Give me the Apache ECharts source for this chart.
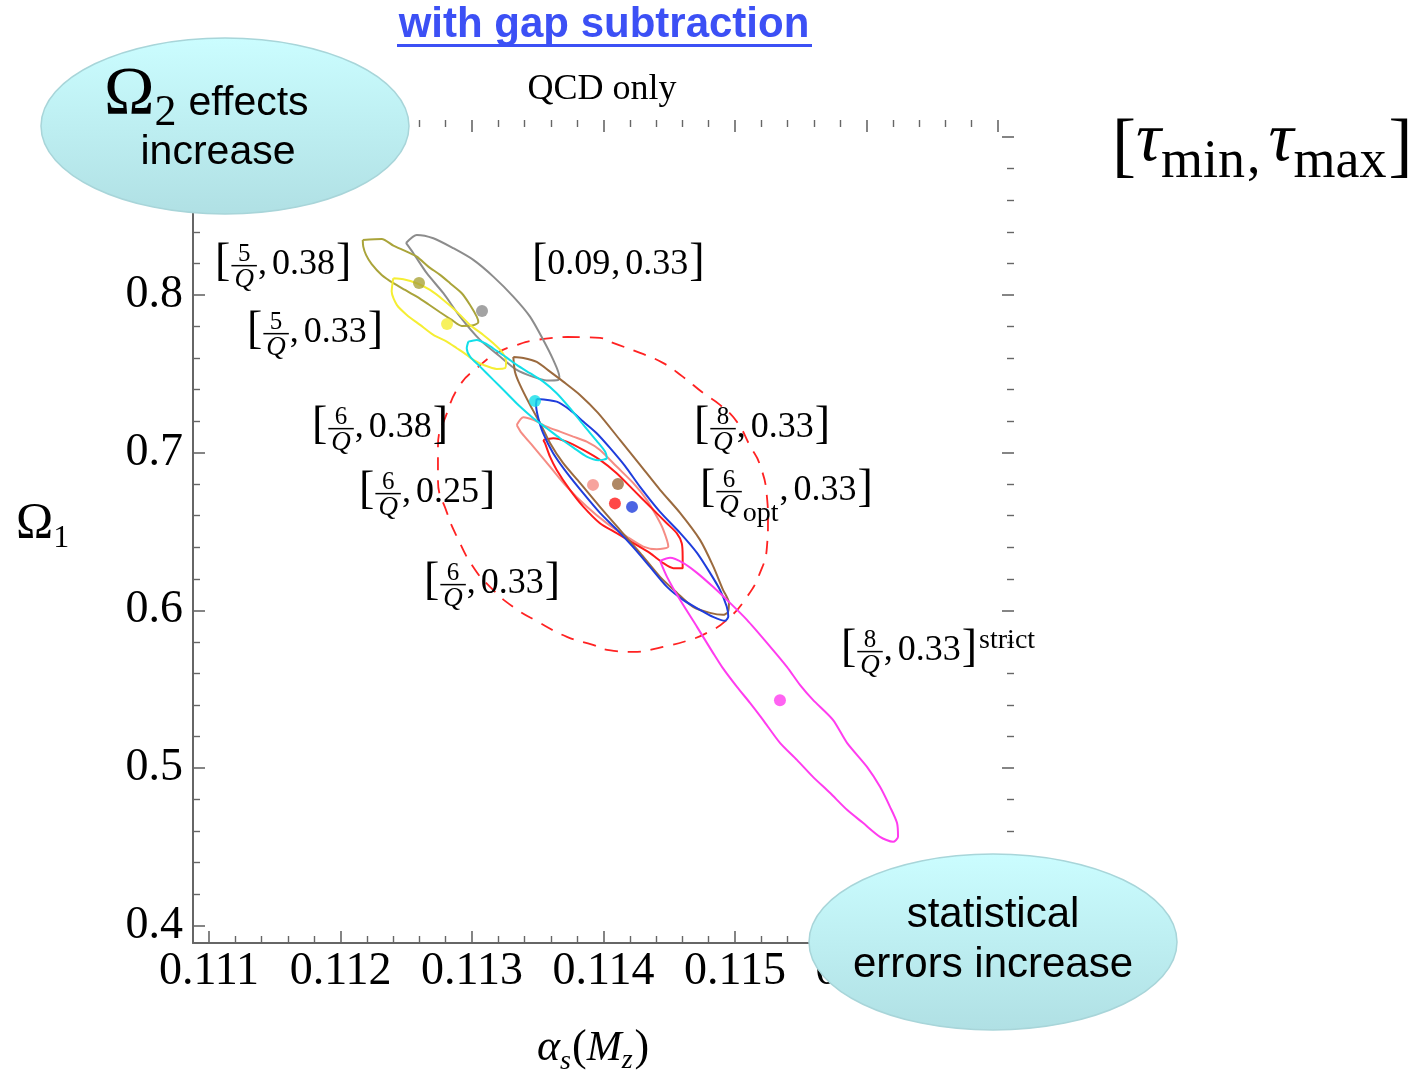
<!DOCTYPE html>
<html>
<head>
<meta charset="utf-8">
<script src="https://cdn.jsdelivr.net/npm/echarts@6/dist/echarts.min.js"></script>
<style>
  html, body { margin: 0; padding: 0; background: #ffffff; }
  #chart { width: 1426px; height: 1075px; }
</style>
</head>
<body>
<div id="chart"></div>
<script>
// ---- axis ranges and tick positions --------------------------------------
const alphaRange = [0.110878, 0.117122];
const omegaRange = [0.3891, 0.9109];
const alphaTicks = [0.111, 0.112, 0.113, 0.114, 0.115, 0.116, 0.117];
const omegaTicks = [0.4, 0.5, 0.6, 0.7, 0.8, 0.9];

// ---- best-fit points, one per fit window ---------------------------------
// order: [5/Q,0.38] [0.09,0.33] [5/Q,0.33] [6/Q,0.38] [6/Q,0.25] [6/Q,0.33]
//        [8/Q,0.33] [6/Qopt,0.33] [8/Q,0.33]strict
const bestAlphaS = [0.112597, 0.113076, 0.112810, 0.113479, 0.113920, 0.114087, 0.114110, 0.114217, 0.115342];
const bestOmega1 = [0.80761, 0.78986, 0.78162, 0.73280, 0.67956, 0.66783, 0.68019, 0.66561, 0.54295];

// ---- 1-sigma contours (alpha_s, Omega_1) --------------------------------
const contourOlive = [[0.112169,0.83487],[0.112313,0.83550],[0.112402,0.83125],[0.112491,0.82789],[0.112580,0.82428],[0.112668,0.81794],[0.112757,0.81268],[0.112833,0.80742],[0.112922,0.80108],[0.112985,0.79366],[0.113036,0.78624],[0.113048,0.78269],[0.112998,0.78054],[0.112922,0.78035],[0.112846,0.78415],[0.112757,0.78903],[0.112668,0.79410],[0.112580,0.79892],[0.112491,0.80317],[0.112402,0.80742],[0.112313,0.81268],[0.112237,0.81946],[0.112194,0.82536],[0.112173,0.83062],[0.112169,0.83487]];
const contourGray = [[0.112498,0.83296],[0.112580,0.83803],[0.112706,0.83594],[0.112858,0.82960],[0.113010,0.82219],[0.113162,0.81160],[0.113314,0.79892],[0.113441,0.78624],[0.113542,0.77147],[0.113618,0.75880],[0.113664,0.74821],[0.113656,0.74612],[0.113568,0.74580],[0.113466,0.74802],[0.113340,0.75246],[0.113213,0.76089],[0.113061,0.77147],[0.112909,0.78624],[0.112782,0.80108],[0.112656,0.81376],[0.112554,0.82643],[0.112498,0.83296]];
const contourYellow = [[0.112402,0.81059],[0.112478,0.80995],[0.112580,0.80742],[0.112681,0.80317],[0.112782,0.79683],[0.112884,0.78941],[0.112985,0.78098],[0.113086,0.77464],[0.113162,0.76938],[0.113226,0.76406],[0.113259,0.75772],[0.113251,0.75354],[0.113188,0.75309],[0.113086,0.75563],[0.113010,0.75880],[0.112960,0.76197],[0.112884,0.76621],[0.112808,0.77040],[0.112706,0.77464],[0.112605,0.78098],[0.112504,0.78732],[0.112428,0.79366],[0.112389,0.80209],[0.112397,0.80843],[0.112402,0.81059]];
const contourCyan = [[0.112972,0.77040],[0.113036,0.77147],[0.113112,0.76875],[0.113188,0.76450],[0.113264,0.76025],[0.113340,0.75563],[0.113441,0.75037],[0.113542,0.74504],[0.113644,0.73769],[0.113745,0.72818],[0.113847,0.71759],[0.113948,0.70745],[0.114012,0.70067],[0.114025,0.69648],[0.113961,0.69522],[0.113872,0.69750],[0.113771,0.70320],[0.113669,0.70916],[0.113568,0.71550],[0.113466,0.72184],[0.113365,0.72919],[0.113264,0.73769],[0.113162,0.74612],[0.113061,0.75455],[0.112985,0.76089],[0.112960,0.76621],[0.112972,0.77040]];
const contourSalmon = [[0.113340,0.71759],[0.113390,0.72247],[0.113466,0.72076],[0.113568,0.71651],[0.113669,0.71334],[0.113770,0.71017],[0.113872,0.70700],[0.113973,0.70174],[0.114100,0.69116],[0.114227,0.68063],[0.114329,0.67005],[0.114405,0.65946],[0.114455,0.65103],[0.114493,0.64044],[0.114405,0.63879],[0.114303,0.64044],[0.114176,0.64678],[0.114024,0.65528],[0.113872,0.66580],[0.113720,0.67848],[0.113593,0.69116],[0.113466,0.70384],[0.113378,0.71233],[0.113340,0.71759]];
const contourRed = [[0.113542,0.70808],[0.113618,0.70916],[0.113720,0.70700],[0.113846,0.70174],[0.113973,0.69540],[0.114100,0.68697],[0.114227,0.67639],[0.114354,0.66580],[0.114481,0.65528],[0.114557,0.64894],[0.114595,0.64260],[0.114602,0.63410],[0.114602,0.62675],[0.114531,0.62675],[0.114455,0.62992],[0.114354,0.63626],[0.114227,0.64260],[0.114100,0.64894],[0.113973,0.65528],[0.113846,0.66580],[0.113745,0.67639],[0.113644,0.68906],[0.113593,0.69750],[0.113555,0.70599],[0.113542,0.70808]];
const contourBrown = [[0.113314,0.76070],[0.113390,0.76006],[0.113492,0.75753],[0.113593,0.75138],[0.113694,0.74504],[0.113821,0.73661],[0.113958,0.72520],[0.114125,0.70808],[0.114278,0.69223],[0.114430,0.67639],[0.114582,0.66180],[0.114734,0.64469],[0.114833,0.62821],[0.114909,0.61300],[0.114954,0.60475],[0.114947,0.59905],[0.114909,0.59715],[0.114810,0.59841],[0.114681,0.60222],[0.114559,0.61109],[0.114430,0.62124],[0.114278,0.63645],[0.114125,0.65103],[0.113973,0.66561],[0.113821,0.68082],[0.113692,0.69350],[0.113593,0.70618],[0.113517,0.71886],[0.113441,0.73027],[0.113365,0.74295],[0.113327,0.75119],[0.113314,0.76070]];
const contourBlue = [[0.113492,0.73407],[0.113644,0.73236],[0.113745,0.72710],[0.113846,0.71968],[0.113948,0.71233],[0.114049,0.70301],[0.114163,0.69160],[0.114278,0.67829],[0.114430,0.66244],[0.114582,0.64913],[0.114711,0.63645],[0.114810,0.62377],[0.114886,0.61300],[0.114937,0.60241],[0.114949,0.59607],[0.114924,0.59334],[0.114833,0.59588],[0.114734,0.60032],[0.114605,0.60666],[0.114483,0.61490],[0.114354,0.62758],[0.114224,0.64025],[0.114103,0.65103],[0.113973,0.66180],[0.113844,0.67448],[0.113722,0.68716],[0.113616,0.69984],[0.113540,0.71252],[0.113502,0.72266],[0.113487,0.73027],[0.113492,0.73407]];
const contourMagenta = [[0.114430,0.63138],[0.114506,0.63328],[0.114605,0.63011],[0.114711,0.62377],[0.114833,0.61490],[0.114962,0.60475],[0.115091,0.59398],[0.115243,0.57940],[0.115395,0.56418],[0.115494,0.55277],[0.115593,0.54326],[0.115745,0.53059],[0.115852,0.51601],[0.116004,0.50079],[0.116103,0.48811],[0.116179,0.47544],[0.116232,0.46529],[0.116240,0.45642],[0.116202,0.45325],[0.116103,0.45642],[0.115973,0.46529],[0.115852,0.47353],[0.115722,0.48431],[0.115593,0.49445],[0.115471,0.50523],[0.115342,0.51601],[0.115213,0.53059],[0.115114,0.54136],[0.115015,0.55150],[0.114901,0.56418],[0.114833,0.57306],[0.114711,0.58954],[0.114582,0.60666],[0.114483,0.62124],[0.114430,0.63138]];

// dashed ring around the preferred fit region
const preferredRing = [[0.113722,0.77338],[0.113973,0.77274],[0.114072,0.76957],[0.114278,0.76323],[0.114452,0.75689],[0.114605,0.74802],[0.114757,0.73788],[0.114886,0.73027],[0.115015,0.71949],[0.115114,0.70428],[0.115190,0.69223],[0.115243,0.67195],[0.115251,0.65737],[0.115243,0.64025],[0.115190,0.62377],[0.115091,0.60856],[0.114939,0.59398],[0.114787,0.58574],[0.114658,0.58130],[0.114452,0.57686],[0.114224,0.57369],[0.114027,0.57496],[0.113920,0.57813],[0.113722,0.58320],[0.113517,0.59208],[0.113312,0.60222],[0.113137,0.61490],[0.113008,0.62758],[0.112886,0.64659],[0.112810,0.66180],[0.112741,0.68273],[0.112741,0.70365],[0.112810,0.72520],[0.112909,0.74295],[0.113038,0.75372],[0.113190,0.76323],[0.113342,0.76830],[0.113494,0.77147],[0.113722,0.77338]];

// ---- fit window labels and where they sit (alpha_s, Omega_1 of left edge / baseline)
const windowLabels = [
  { lo: ['5'], hi: '0.38' },
  { lo: '0.09', hi: '0.33' },
  { lo: ['5'], hi: '0.33' },
  { lo: ['6'], hi: '0.38' },
  { lo: ['6'], hi: '0.25' },
  { lo: ['6'], hi: '0.33' },
  { lo: ['8'], hi: '0.33' },
  { lo: ['6', 'opt'], hi: '0.33' },
  { lo: ['8'], hi: '0.33', sup: 'strict' }
];
const labelAnchors = [[0.111046,0.81141],[0.113456,0.81141],[0.111289,0.76830],[0.111783,0.70808],[0.112141,0.66688],[0.112635,0.60919],[0.114688,0.70808],[0.114734,0.66815],[0.115806,0.56672]];

// ---- styling -------------------------------------------------------------
const SERIF = "'Liberation Serif', 'Times New Roman', serif";
const SANS = "'Liberation Sans', Arial, Helvetica, sans-serif";
const AXIS_GRAY = '#666666';
const fitColors = ['#aaa43a', '#8c8c8c', '#f5ee34', '#12dfe9', '#f58c84', '#ff1a1a', '#9b6a3e', '#1f3ddc', '#ff3cef'];
const drawOrder = [1, 0, 2, 4, 5, 6, 7, 3, 8];
const contours = [contourOlive, contourGray, contourYellow, contourCyan, contourSalmon, contourRed, contourBrown, contourBlue, contourMagenta];

const fmtAlpha = v => Math.abs(v * 1000 - Math.round(v * 1000)) < 1e-6 ? v.toFixed(3) : '';
const fmtOmega = v => Math.abs(v * 10 - Math.round(v * 10)) < 1e-6 ? v.toFixed(1) : '';

function valueAxis(pos, range, step, ticks, fmt, withLine, withLabel) {
  return {
    type: 'value', position: pos, min: range[0], max: range[1],
    minInterval: step, maxInterval: step,
    axisLine: { show: withLine, onZero: false, lineStyle: { color: AXIS_GRAY, width: 2 } },
    axisTick: { show: true, inside: true, length: 12, customValues: ticks, lineStyle: { color: AXIS_GRAY, width: 1.6 } },
    minorTick: { show: true, splitNumber: 5, length: 7, lineStyle: { color: AXIS_GRAY, width: 1.4 } },
    splitLine: { show: false }, minorSplitLine: { show: false },
    axisLabel: { show: withLabel, customValues: ticks, margin: pos === 'bottom' ? 6 : 10, fontFamily: SERIF, fontSize: 46, color: '#000', formatter: fmt }
  };
}

const series = [{
  type: 'line', name: 'ring', data: preferredRing, smooth: 0.5, showSymbol: false, symbol: 'none', silent: true, z: 2,
  lineStyle: { color: '#ff2222', width: 1.8, type: [13, 10] }
}];
drawOrder.forEach((k, i) => {
  series.push({
    type: 'line', name: 'contour' + k, data: contours[k], smooth: 0.25, showSymbol: false, symbol: 'none', silent: true, z: 3 + i,
    lineStyle: { color: fitColors[k], width: 2 }
  });
});
series.push({
  type: 'scatter', name: 'best fit', symbolSize: 12, z: 20, silent: true,
  data: bestAlphaS.map((a, i) => ({ value: [a, bestOmega1[i]], itemStyle: { color: fitColors[i] } }))
});

const option = {
  animation: false,
  backgroundColor: '#ffffff',
  grid: { left: 193, right: 412, top: 120, bottom: 132 },
  xAxis: [
    valueAxis('bottom', alphaRange, 0.001, alphaTicks, fmtAlpha, true, true),
    valueAxis('top', alphaRange, 0.001, alphaTicks, fmtAlpha, false, false)
  ],
  yAxis: [
    valueAxis('left', omegaRange, 0.1, omegaTicks, fmtOmega, true, true),
    valueAxis('right', omegaRange, 0.1, omegaTicks, fmtOmega, false, false)
  ],
  series: series
};

const chart = echarts.init(document.getElementById('chart'), null, { renderer: 'canvas' });
chart.setOption(option);

// ---- math-style text layout --------------------------------------------
const MID = 0.34; // canvas "middle" baseline above the alphabetic one, in em
const measureCtx = document.createElement('canvas').getContext('2d');
function fontOf(size, italic, family, bold) {
  return (italic ? 'italic ' : '') + (bold ? 'bold ' : '') + size + 'px ' + (family || SERIF);
}
function widthOf(s, f) { measureCtx.font = f; return measureCtx.measureText(s).width; }
function txt(s, x, baseline, size, opts) {
  opts = opts || {};
  const align = opts.align || 'left';
  return {
    type: 'text', x: x, y: baseline - MID * size, z: opts.z || 60,
    style: {
      text: s, font: fontOf(size, opts.italic, opts.family, opts.bold), fill: opts.color || '#000',
      align: align, verticalAlign: 'middle', textAlign: align, textVerticalAlign: 'middle'
    }
  };
}
// lay out a row of parts starting at (x0, baseline)
function mathRow(parts, x0, base, z) {
  const out = [];
  let x = x0;
  parts.forEach(p => {
    x += p.gap || 0;
    if (p.frac) {
      const nf = fontOf(p.numSize), df = fontOf(p.denSize, true);
      const w = Math.max(widthOf(p.frac[0], nf), widthOf(p.frac[1], df)) + 6;
      out.push(txt(p.frac[0], x + w / 2, base - 14, p.numSize, { align: 'center', z }));
      out.push({ type: 'rect', z: z || 60, shape: { x: x, y: base - 12, width: w, height: 1.5 }, style: { fill: '#000' } });
      out.push(txt(p.frac[1], x + w / 2, base + 12, p.denSize, { align: 'center', italic: true, z }));
      x += w;
    } else {
      const f = fontOf(p.size, p.italic, p.family);
      out.push(txt(p.text, x, base + (p.dy || 0), p.size, { italic: p.italic, family: p.family, z }));
      x += widthOf(p.text, f);
    }
  });
  return out;
}
function windowParts(lab) {
  const parts = [{ text: '[', size: 46, dy: 2 }];
  if (Array.isArray(lab.lo)) {
    parts.push({ frac: [lab.lo[0], 'Q'], numSize: 25, denSize: 27, gap: 1 });
    if (lab.lo[1]) parts.push({ text: lab.lo[1], size: 28, dy: 20, gap: 1 });
  } else {
    parts.push({ text: lab.lo, size: 36, gap: 0 });
  }
  parts.push({ text: ',', size: 36, gap: 1 });
  parts.push({ text: lab.hi, size: 36, gap: 5 });
  parts.push({ text: ']', size: 46, dy: 2, gap: 1 });
  if (lab.sup) parts.push({ text: lab.sup, size: 28, dy: -13, gap: 2 });
  return parts;
}

const elements = [];
windowLabels.forEach((lab, i) => {
  const p = chart.convertToPixel({ xAxisIndex: 0, yAxisIndex: 0 }, labelAnchors[i]);
  elements.push(...mathRow(windowParts(lab), p[0], p[1]));
});

// header and axis titles
elements.push(txt('with gap subtraction', 604, 40, 42, { align: 'center', family: SANS, bold: true, color: '#3c50f5' }));
elements.push({ type: 'rect', z: 60, shape: { x: 397, y: 44, width: 415, height: 3 }, style: { fill: '#3c50f5' } });
elements.push(txt('QCD only', 602, 102, 36, { align: 'center' }));
elements.push(...mathRow([
  { text: '[', size: 72, dy: 9 },
  { text: '\u03C4', size: 70, italic: true, gap: 0 },
  { text: 'min', size: 54, dy: 16 },
  { text: ',', size: 54, dy: 12, gap: 2 },
  { text: '\u03C4', size: 70, italic: true, gap: 8 },
  { text: 'max', size: 54, dy: 16 },
  { text: ']', size: 72, dy: 9, gap: 2 }
], 1112, 165));
elements.push(...mathRow([
  { text: '\u03A9', size: 50 },
  { text: '1', size: 32, dy: 8 }
], 16, 541));
elements.push(...mathRow([
  { text: '\u03B1', size: 44, italic: true },
  { text: 's', size: 28, italic: true, dy: 8 },
  { text: '(', size: 44, gap: 1 },
  { text: 'M', size: 42, italic: true },
  { text: 'z', size: 28, italic: true, dy: 7 },
  { text: ')', size: 44, gap: 2 }
], 537, 1063));

// callout bubbles
const bubbleFill = {
  type: 'linear', x: 0, y: 0, x2: 0, y2: 1,
  colorStops: [{ offset: 0, color: '#cbfdff' }, { offset: 1, color: '#b0e0e4' }]
};
elements.push({ type: 'ellipse', z: 100, shape: { cx: 225, cy: 126, rx: 184, ry: 88 }, style: { fill: bubbleFill, stroke: '#a8d5d9', lineWidth: 1.5 } });
elements.push({ type: 'ellipse', z: 100, shape: { cx: 993, cy: 942, rx: 184, ry: 88 }, style: { fill: bubbleFill, stroke: '#a8d5d9', lineWidth: 1.5 } });
elements.push(...mathRow([
  { text: '\u03A9', size: 68 },
  { text: '2', size: 44, dy: 10 },
  { text: 'effects', size: 41, family: SANS, gap: 12 }
], 104, 118, 101));
elements.push(txt('increase', 218, 167, 41, { align: 'center', family: SANS, z: 101 }));
elements.push(txt('statistical', 993, 930, 42, { align: 'center', family: SANS, z: 101 }));
elements.push(txt('errors increase', 993, 980, 42, { align: 'center', family: SANS, z: 101 }));

chart.setOption({ graphic: { elements: elements } });
</script>
</body>
</html>
